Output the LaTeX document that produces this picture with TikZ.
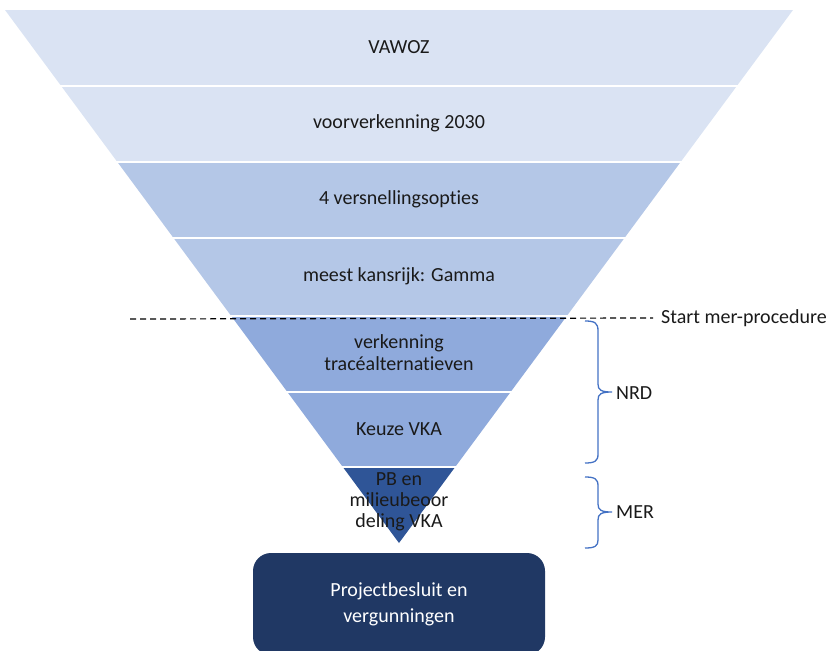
\documentclass[tikz,border=0pt]{standalone}
\usepackage{fontspec}
\setmainfont{Carlito}[Ligatures={NoCommon,NoRare,NoDiscretionary}]
\definecolor{bandA}{HTML}{DAE3F3}
\definecolor{bandB}{HTML}{B4C7E7}
\definecolor{bandC}{HTML}{8FAADC}
\definecolor{bandD}{HTML}{2F5597}
\definecolor{boxcol}{HTML}{203864}
\definecolor{bracecol}{HTML}{4472C4}
\definecolor{txt}{HTML}{1A1A1A}
\begin{document}
\begin{tikzpicture}[x=1pt,y=-1pt,
  lbl/.style={font=\fontsize{20}{22}\selectfont, text=txt, align=center, inner sep=0pt},
  sidelbl/.style={font=\fontsize{20}{22}\selectfont, text=txt, anchor=west, inner sep=0pt},
  bracestyle/.style={draw=bracecol, line width=1.3pt},
  gap/.style={draw=white, line width=2pt}]
\useasboundingbox (0,0) rectangle (836,651);
% funnel
\begin{scope}
  \clip (5,10) -- (793,10) -- (399,543) -- cycle;
  \fill[bandA] (0,10) rectangle (836,162);
  \fill[bandB] (0,162) rectangle (836,316);
  \fill[bandC] (0,316) rectangle (836,467);
  \fill[bandD] (0,467) rectangle (836,560);
\end{scope}
\foreach \yy in {86,162,238,316,392,467}
  \draw[gap] (0,\yy) -- (836,\yy);
% band labels
\node[lbl] (b1) at (399,47) {VAWOZ};
\node[lbl] (b2) at (399,123) {voorverkenning 2030};
\node[lbl] (b3) at (399,199) {4 versnellingsopties};
\node[lbl] (b4) at (399,276) {meest kansrijk: Gamma};
\node[lbl] (b5) at (399,353) {verkenning\\tracéalternatieven};
\node[lbl] (b6) at (399,429) {Keuze VKA};
\node[lbl, font=\fontsize{20}{21}\selectfont] (b7) at (399,502) {PB en\\milieubeoor\\deling VKA};
% dashed line
\coordinate (dl) at (130,319);
\node[sidelbl] (start) at (661,318) {Start mer-procedure};
\draw[dash pattern=on 6pt off 4pt, line width=1.2pt, black] (dl) -- ([xshift=-8pt]start.west);
% braces
\draw[bracestyle] (585,321) .. controls (595,321) and (598,323) .. (598,331) -- (598,384)
  .. controls (598,390) and (601,392) .. (612,392)
  .. controls (601,392) and (598,394) .. (598,400) -- (598,454)
  .. controls (598,461) and (595,463) .. (585,463);
\node[sidelbl] (nrd) at (616,393) {NRD};
\draw[bracestyle] (585,477) .. controls (595,477) and (598,479) .. (598,486) -- (598,504)
  .. controls (598,510) and (601,512) .. (612,512)
  .. controls (601,512) and (598,514) .. (598,520) -- (598,540)
  .. controls (598,546) and (595,548) .. (585,548);
\node[sidelbl] (mer) at (616,512) {MER};
% final box
\node[fill=boxcol, rounded corners=18pt, minimum width=292pt, minimum height=102pt,
  text=white, align=center, font=\fontsize{20}{26}\selectfont, inner sep=0pt] (box) at (399,604)
  {Projectbesluit en\\vergunningen};
\end{tikzpicture}
\end{document}
